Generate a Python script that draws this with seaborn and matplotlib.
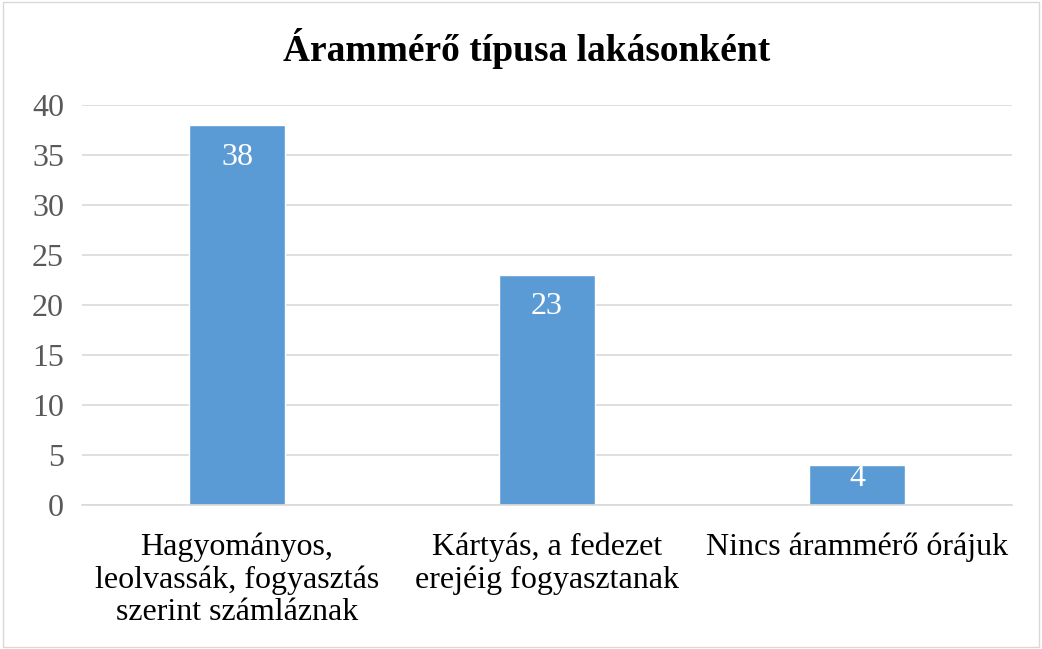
import matplotlib.pyplot as plt
import seaborn as sns
import pandas as pd

categories = ['Hagyományos,\nleolvassák, fogyasztás\nszerint számláznak',
              'Kártyás, a fedezet\nerejéig fogyasztanak',
              'Nincs árammérő órájuk']
counts = [38, 23, 4]
yticks = [0, 5, 10, 15, 20, 25, 30, 35, 40]

sns.set_theme(style='white')
plt.rcParams['font.family'] = ['Liberation Serif', 'DejaVu Serif']

df = pd.DataFrame({'cat': categories, 'n': counts})

fig = plt.figure(figsize=(10.42, 6.49), dpi=100)
ax = fig.add_axes([0.0787, 0.222, 0.8925, 0.616])

sns.barplot(data=df, x='cat', y='n', color='#5B9BD5', saturation=1, width=0.31, ax=ax)

ax.set_ylim(0, 40)
ax.set_xlim(-0.5, 2.5)
ax.set_yticks(yticks)
ax.yaxis.grid(True, color='#D9D9D9', linewidth=1.2)
ax.set_axisbelow(True)
for s in ['top', 'right', 'left']:
    ax.spines[s].set_visible(False)
ax.spines['bottom'].set_color('#D9D9D9')
ax.spines['bottom'].set_linewidth(1.2)
ax.tick_params(axis='both', length=0, labelsize=23, colors='#595959')
ax.tick_params(axis='y', pad=13)
ax.tick_params(axis='x', pad=20)
for lbl in ax.get_xticklabels():
    lbl.set_color('black')
    lbl.set_linespacing(1.15)
ax.set_xlabel('')
ax.set_ylabel('')

# excel puts the label inside the bar end; a short bar gets it nearer its top
for i, v in enumerate(counts):
    off = -23 if v > 10 else -10
    ax.annotate(str(v), (i, v), xytext=(0, off), textcoords='offset points',
                ha='center', va='center', color='white', fontsize=23)

fig.text(0.505, 0.926, 'Árammérő típusa lakásonként', ha='center', va='center',
         fontsize=27, fontweight='bold', color='black')

fig.patches.append(plt.Rectangle((0.003, 0.003), 0.994, 0.994, transform=fig.transFigure,
                                 fill=False, edgecolor='#D9D9D9', linewidth=1))

fig.savefig('out.png', dpi=100)
